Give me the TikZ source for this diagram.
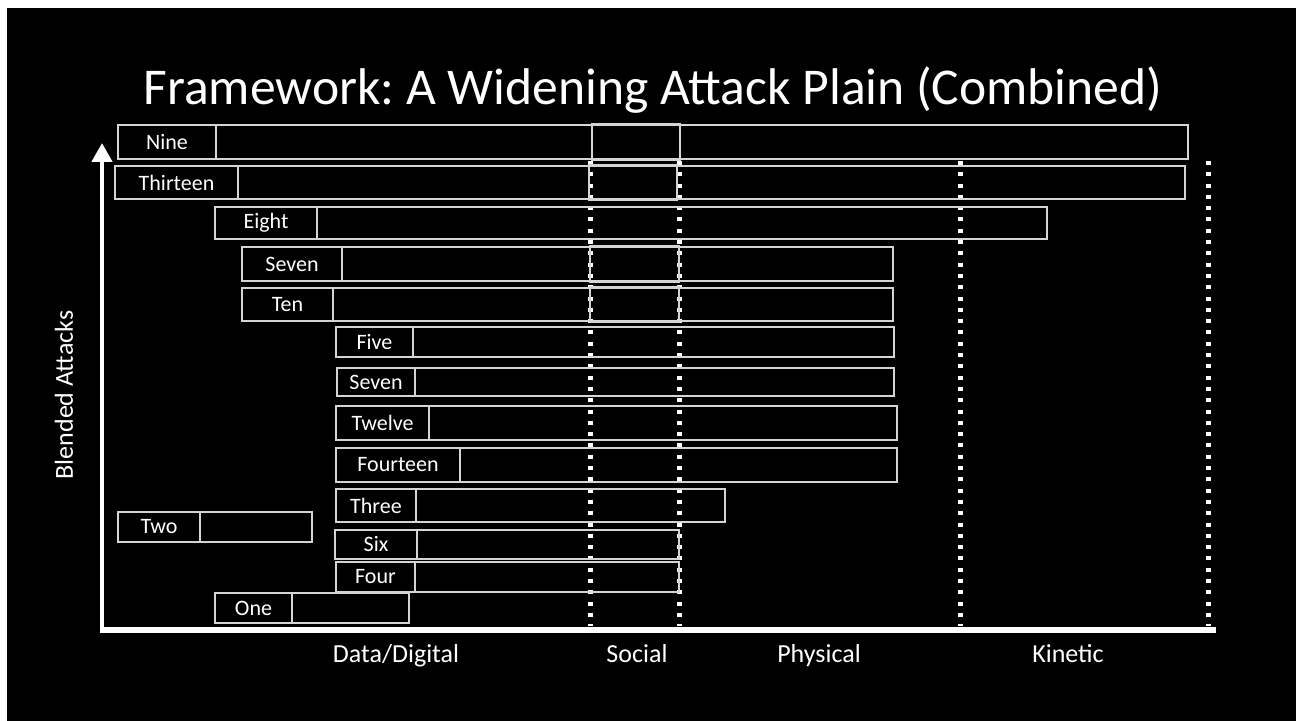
\documentclass[tikz,border=0pt]{standalone}
\usepackage{fontspec}
\setmainfont{Carlito}
\usetikzlibrary{arrows.meta,fit}
\definecolor{bargray}{HTML}{D4D4D4}
\frenchspacing

\begin{document}
\begin{tikzpicture}[x=0.5pt,y=-0.5pt,
    every node/.style={text=white,font=\fontsize{11}{13}\selectfont},
    barline/.style={draw=bargray,line width=1pt},
    bar/.style={barline,inner sep=0pt},
    tag/.style={barline,inner sep=0pt},
    divider/.style={draw=white,line width=2.5pt,dash pattern=on 2pt off 3.65pt},
    axis/.style={draw=white,line width=2.2pt},
    axislabel/.style={font=\fontsize{13}{15}\selectfont,anchor=base}]
  \useasboundingbox (0,0) rectangle (1296,721);
  \fill[white] (0,0) rectangle (1296,721);
  \fill[black] (7,8) rectangle (1296,721);

  % title
  \node[font=\fontsize{25.8}{31}\selectfont,anchor=base] (title) at (653,105) {Framework: A Widening Attack Plain (Combined)};

  % category dividers
  \foreach \xd in {590,679,960,1208}
    \draw[divider] (\xd,161) -- (\xd,626);

  % attack bars: name/left/right/top/bottom/tag right/label
  \foreach \nm/\xa/\xb/\ya/\yb/\xl/\txt in {
      nine/118/1188/125/159/216/Nine,
      thirteen/115/1185/166/199/238/Thirteen,
      eight/215/1047/207/239/317/Eight,
      sevena/242/893/247/281/342/Seven,
      ten/242/893/288/321/333/Ten,
      five/336/894/327/357/413/Five,
      sevenb/337/894/368/396/415/Seven,
      twelve/336/897/406/440/429/Twelve,
      fourteen/336/897/448/482/460/Fourteen,
      three/336/725/489/522/416/Three,
      two/118/312/512/542/200/Two,
      six/335/679/530/559/417/Six,
      four/336/679/562/592/415/Four,
      one/215/409/593/623/292/One}
  {
    \node[bar,fit={(\xa,\ya) (\xb,\yb)}] (\nm) {};
    \node[tag,fit={(\xa,\ya) (\xl,\yb)},label=center:\txt] (\nm-tag) {};
  }

  % social segments
  \foreach \nm/\xa/\xb in {nine/592/680,thirteen/589/677,sevena/590/679,ten/590/679}
    \draw[barline] (\xa,0 |- \nm.north) rectangle (\xb,0 |- \nm.south);

  % axes
  \coordinate (origin) at (102,630);
  \coordinate (ytop) at (102,143);
  \coordinate (xend) at (1216,630);
  \draw[axis,-{Triangle[width=10pt,length=9.5pt]}] (origin) -- (ytop);
  \draw[axis,line width=2.6pt] ([xshift=-1pt]origin) -- (xend);

  \node[font=\fontsize{13}{15}\selectfont,rotate=90] (yname) at (64,395) {Blended Attacks};
  \node[axislabel] (xdata) at (396,662) {Data/Digital};
  \node[axislabel] (xsocial) at (637,662) {Social};
  \node[axislabel] (xphysical) at (819,662) {Physical};
  \node[axislabel] (xkinetic) at (1068,662) {Kinetic};
\end{tikzpicture}
\end{document}
